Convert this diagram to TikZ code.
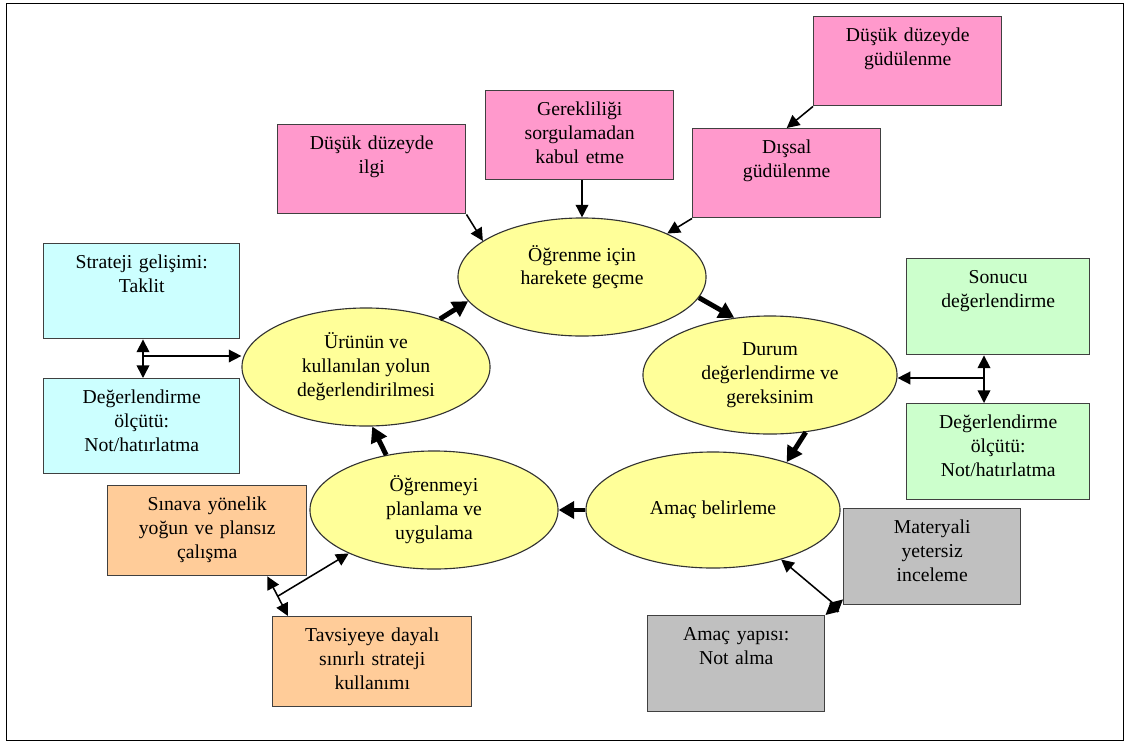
\documentclass[tikz,border=0pt]{standalone}
\usepackage{fontspec}
\setmainfont{Liberation Serif}
\usetikzlibrary{shapes.geometric, arrows.meta, calc}
\definecolor{boxpink}{RGB}{255,153,204}
\definecolor{boxblue}{RGB}{204,255,255}
\definecolor{boxgreen}{RGB}{204,255,204}
\definecolor{boxorange}{RGB}{255,204,153}
\definecolor{boxgray}{RGB}{192,192,192}
\definecolor{stageyellow}{RGB}{255,255,153}
\newcommand{\diagfont}{\fontsize{14}{17}\selectfont}

\begin{document}
\begin{tikzpicture}[x=0.025cm, y=-0.025cm,
  >={Triangle[length=9pt, width=9pt]},
  box/.style={draw=black!75, line width=1pt, anchor=north west, inner sep=0pt,
    align=center, font=\diagfont, text height=0.62cm},
  pinkbox/.style={box, fill=boxpink, text width=4.7cm, text depth=1.605cm},
  bluebox/.style={box, fill=boxblue, text width=4.9cm, text depth=1.755cm},
  greenbox/.style={box, fill=boxgreen, text width=4.575cm, text depth=1.78cm},
  orangebox/.style={box, fill=boxorange, text width=4.975cm, text depth=1.63cm},
  graybox/.style={box, fill=boxgray, text width=4.425cm, text depth=1.78cm},
  stage/.style={ellipse, draw=black!80, fill=stageyellow, line width=0.8pt, inner sep=0pt,
    align=center, font=\diagfont, minimum width=6.2cm, minimum height=2.95cm},
  link/.style={line width=1.1pt, ->},
  dlink/.style={line width=1.1pt, <->},
  flow/.style={line width=3.5pt, -{Triangle[length=11pt, width=12pt]}}]

\useasboundingbox (0,0) rectangle (1130,744);
\draw[line width=0.6pt] (6,3) rectangle (1123,740);

% stages of the cycle
\node[stage] (hareket) at (582,277) {Öğrenme için\\harekete geçme\\~};
\node[stage, minimum width=6.35cm] (durum) at (770,375) {Durum\\değerlendirme ve\\gereksinim};
\node[stage, minimum width=6.35cm, minimum height=2.9cm] (amac) at (713,510) {Amaç belirleme};
\node[stage] (planlama) at (434,510) {Öğrenmeyi\\planlama ve\\uygulama};
\node[stage] (urun) at (366,367) {Ürünün ve\\kullanılan yolun\\değerlendirilmesi};

% motivation
\node[pinkbox] (ilgi) at (277,124) {Düşük düzeyde\\ilgi};
\node[pinkbox] (kabul) at (485,90) {Gerekliliği\\sorgulamadan\\kabul etme};
\node[pinkbox] (dissal) at (692,128) {Dışsal\\güdülenme};
\node[pinkbox] (gudu) at (813,16) {Düşük düzeyde\\güdülenme};

% left side
\node[bluebox] (taklit) at (43,243) {Strateji gelişimi:\\Taklit};
\node[bluebox] (olcutL) at (43,378) {Değerlendirme\\ölçütü:\\Not/hatırlatma};

% right side
\node[greenbox] (sonuc) at (906,258) {Sonucu\\değerlendirme};
\node[greenbox] (olcutR) at (906,403) {Değerlendirme\\ölçütü:\\Not/hatırlatma};

% bottom
\node[orangebox] (sinav) at (107,485) {Sınava yönelik\\yoğun ve plansız\\çalışma};
\node[orangebox] (tavsiye) at (272,616) {Tavsiyeye dayalı\\sınırlı strateji\\kullanımı};
\node[graybox] (materyal) at (843,508) {Materyali\\yetersiz\\inceleme};
\node[graybox] (yapi) at (647,615) {Amaç yapısı:\\Not alma};

% cycle arrows
\draw[flow] (hareket.-10) -- (durum.122);
\draw[flow] (durum.-58) -- (amac.33);
\draw[flow] (amac.west) -- (planlama.east);
\draw[flow] (planlama.131) -- (urun.-84);
\draw[flow] (urun.33) -- (hareket.192);

% links
\draw[link] (ilgi.south east) -- (hareket.160);
\draw[link] (kabul.south -| hareket.north) -- (hareket.north);
\draw[link] (dissal.south west) -- (hareket.27);
\draw[link] (gudu.south west) -- (dissal.north);

\coordinate (lj) at (143,356);
\draw[dlink] (lj |- taklit.south) -- (lj |- olcutL.north);
\draw[link] (lj) -- (lj -| urun.west);

\coordinate (rj) at (984,378);
\draw[dlink] (rj |- sonuc.south) -- (rj |- olcutR.north);
\draw[link] (rj) -- (rj -| durum.east);

\coordinate (oa) at ($(sinav.south east)+(-40,0)$);
\coordinate (ob) at ($(tavsiye.north west)+(16,0)$);
\coordinate (oj) at ($(oa)!0.5!(ob)$);
\draw[dlink] (oa) -- (ob);
\draw[link] (oj) -- (planlama.207);

\coordinate (ga) at ($(materyal.south west)+(0,-6)$);
\coordinate (gj) at ($(yapi.north east)!0.6!(ga)$);
\draw[dlink] (yapi.north east) -- (ga);
\draw[link] (gj) -- (amac.-36);
\end{tikzpicture}
\end{document}
